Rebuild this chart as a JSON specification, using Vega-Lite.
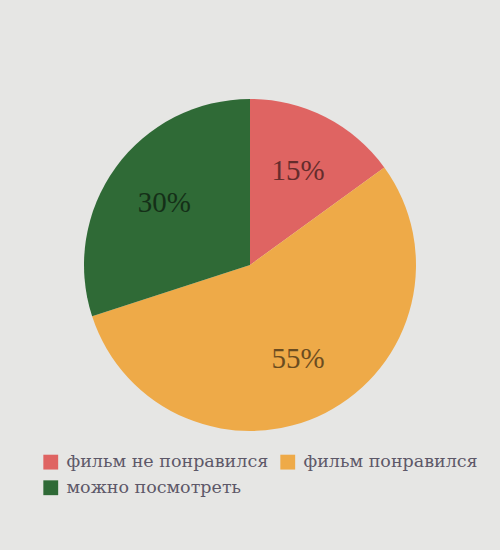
{
  "$schema": "https://vega.github.io/schema/vega-lite/v6.json",
  "width": 500,
  "height": 530,
  "padding": {"left": 0, "top": 0, "right": 0, "bottom": 20},
  "autosize": "none",
  "background": "#e6e6e4",
  "data": {
    "values": [
      {"category": "фильм не понравился", "value": 15, "label": "15%", "order": 1},
      {"category": "фильм понравился", "value": 55, "label": "55%", "order": 2},
      {"category": "можно посмотреть", "value": 30, "label": "30%", "order": 3}
    ]
  },
  "encoding": {
    "theta": {"field": "value", "type": "quantitative", "stack": true},
    "order": {"field": "order", "type": "quantitative"},
    "color": {
      "field": "category",
      "type": "nominal",
      "sort": ["фильм не понравился", "фильм понравился", "можно посмотреть"],
      "scale": {
        "domain": ["фильм не понравился", "фильм понравился", "можно посмотреть"],
        "range": ["#df6462", "#eeaa48", "#2f6a36"]
      },
      "legend": {
        "title": null,
        "orient": "none",
        "direction": "horizontal",
        "legendX": 42,
        "legendY": 453,
        "columns": 2,
        "columnPadding": 10,
        "rowPadding": 7,
        "symbolType": "square",
        "symbolSize": 220,
        "symbolStrokeWidth": 0,
        "symbolOpacity": 1,
        "labelFont": "DejaVu Serif",
        "labelFontSize": 17.5,
        "labelColor": "#5d5868",
        "labelOffset": 7,
        "labelLimit": 300
      }
    }
  },
  "layer": [
    {
      "mark": {"type": "arc", "outerRadius": 166}
    },
    {
      "mark": {
        "type": "text",
        "radius": 106,
        "font": "Liberation Serif",
        "fontSize": 29,
        "fill": "#000000",
        "opacity": 0.55
      },
      "encoding": {
        "text": {"field": "label", "type": "nominal"},
        "color": {"value": "#000000"}
      }
    }
  ]
}
